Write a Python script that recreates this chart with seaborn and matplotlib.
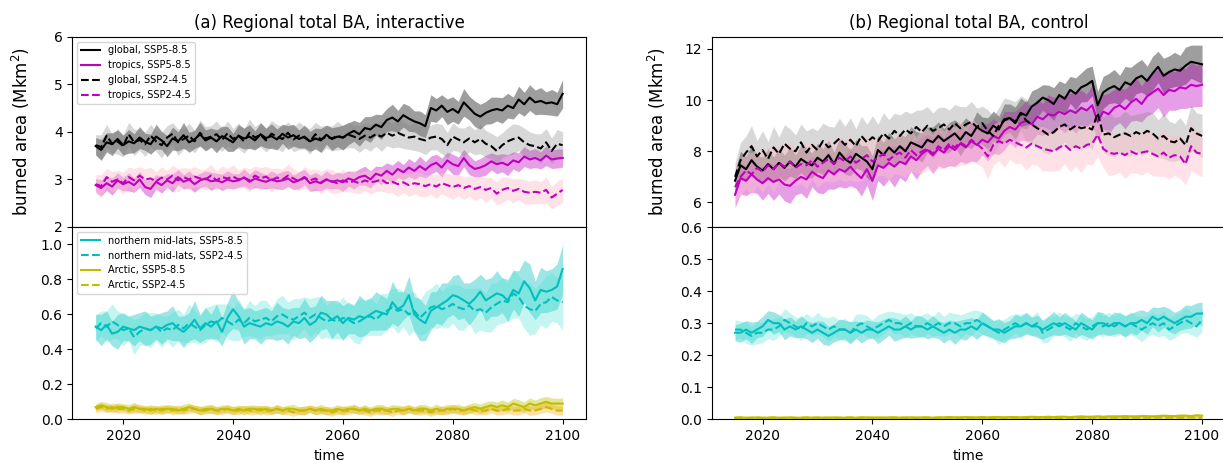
import numpy as np
import matplotlib
matplotlib.use("Agg")
import matplotlib.pyplot as plt
import seaborn as sns

YEARS = list(range(2015, 2101))

# ---------------- (a) interactive: global / tropics (Mkm2) ----------------
GLOBAL_585_A = [
    3.70, 3.62, 3.78, 3.74, 3.85, 3.72, 3.80, 3.76, 3.88, 3.79,
    3.74, 3.90, 3.82, 3.70, 3.86, 3.80, 3.93, 3.78, 3.84, 3.95,
    3.82, 3.88, 3.80, 3.91, 3.85, 3.78, 3.92, 3.86, 3.90, 3.82,
    3.95, 3.87, 3.91, 3.84, 3.96, 3.88, 3.93, 3.85, 3.90, 3.80,
    3.86, 3.82, 3.94, 3.85, 3.90, 3.88, 3.96, 4.02, 3.95, 4.08,
    4.05, 4.15, 4.10, 4.25, 4.30, 4.22, 4.35, 4.28, 4.22, 4.18,
    4.12, 4.50, 4.45, 4.55, 4.42, 4.48, 4.40, 4.62, 4.50, 4.38,
    4.32, 4.40, 4.45, 4.48, 4.45, 4.55, 4.50, 4.68, 4.58, 4.72,
    4.62, 4.65, 4.60, 4.62, 4.58, 4.80]
GLOBAL_585_A_SPREAD = [
    0.18, 0.22, 0.20, 0.24, 0.19, 0.21, 0.25, 0.20, 0.23, 0.18,
    0.21, 0.26, 0.19, 0.22, 0.24, 0.20, 0.27, 0.21, 0.19, 0.25,
    0.22, 0.20, 0.24, 0.21, 0.26, 0.19, 0.23, 0.22, 0.25, 0.20,
    0.24, 0.21, 0.26, 0.22, 0.20, 0.25, 0.23, 0.19, 0.24, 0.21,
    0.22, 0.25, 0.20, 0.24, 0.21, 0.26, 0.23, 0.22, 0.25, 0.24,
    0.27, 0.22, 0.26, 0.24, 0.28, 0.23, 0.25, 0.27, 0.22, 0.26,
    0.24, 0.28, 0.25, 0.23, 0.27, 0.26, 0.24, 0.29, 0.25, 0.27,
    0.26, 0.24, 0.28, 0.25, 0.27, 0.26, 0.23, 0.28, 0.25, 0.27,
    0.26, 0.28, 0.24, 0.27, 0.25, 0.30]
GLOBAL_245_A = [
    3.72, 3.68, 3.92, 3.75, 3.80, 3.70, 3.95, 3.78, 3.83, 3.74,
    3.92, 3.80, 3.72, 3.88, 3.96, 3.78, 3.85, 3.92, 3.80, 3.98,
    3.86, 3.90, 3.95, 3.83, 3.97, 3.85, 3.92, 3.80, 3.98, 3.88,
    3.94, 3.82, 3.96, 3.90, 3.85, 3.98, 3.84, 3.92, 3.88, 3.80,
    3.95, 3.84, 3.90, 3.86, 3.92, 3.88, 3.94, 3.90, 3.85, 3.92,
    3.88, 3.95, 3.90, 3.98, 3.92, 3.98, 3.93, 3.88, 3.90, 3.85,
    3.82, 3.88, 3.90, 3.85, 3.72, 3.90, 3.84, 3.78, 3.86, 3.78,
    3.85, 3.75, 3.70, 3.60, 3.72, 3.80, 3.85, 3.88, 3.78, 3.72,
    3.70, 3.65, 3.78, 3.60, 3.75, 3.72]
GLOBAL_245_A_SPREAD = [
    0.22, 0.26, 0.24, 0.20, 0.27, 0.23, 0.25, 0.28, 0.22, 0.26,
    0.24, 0.21, 0.27, 0.25, 0.23, 0.28, 0.22, 0.26, 0.24, 0.27,
    0.25, 0.23, 0.28, 0.24, 0.26, 0.22, 0.27, 0.25, 0.29, 0.23,
    0.26, 0.24, 0.28, 0.25, 0.27, 0.23, 0.26, 0.29, 0.24, 0.27,
    0.25, 0.28, 0.24, 0.26, 0.30, 0.25, 0.27, 0.24, 0.28, 0.26,
    0.29, 0.25, 0.31, 0.27, 0.26, 0.30, 0.28, 0.25, 0.29, 0.27,
    0.30, 0.26, 0.28, 0.31, 0.27, 0.29, 0.25, 0.30, 0.28, 0.26,
    0.31, 0.28, 0.27, 0.30, 0.26, 0.29, 0.32, 0.27, 0.30, 0.28,
    0.26, 0.31, 0.29, 0.27, 0.30, 0.28]
TROPICS_585_A = [
    2.88, 2.82, 2.92, 2.85, 2.98, 2.90, 2.95, 2.88, 3.00, 2.84,
    2.80, 2.95, 2.88, 2.98, 2.92, 3.05, 2.95, 3.00, 2.90, 2.98,
    3.02, 2.96, 2.98, 2.94, 3.00, 2.96, 2.98, 3.04, 2.95, 3.02,
    2.98, 2.95, 3.00, 2.96, 2.98, 3.02, 2.94, 2.98, 3.05, 2.92,
    2.96, 2.92, 3.00, 2.95, 2.98, 2.94, 3.02, 2.98, 3.05, 3.08,
    3.00, 3.12, 3.08, 3.18, 3.10, 3.22, 3.15, 3.25, 3.18, 3.28,
    3.20, 3.30, 3.35, 3.25, 3.40, 3.32, 3.28, 3.45, 3.30, 3.22,
    3.25, 3.30, 3.38, 3.32, 3.35, 3.30, 3.40, 3.36, 3.48, 3.42,
    3.45, 3.40, 3.50, 3.42, 3.44, 3.45]
TROPICS_585_A_SPREAD = [
    0.14, 0.17, 0.15, 0.18, 0.16, 0.14, 0.19, 0.15, 0.17, 0.16,
    0.18, 0.15, 0.17, 0.14, 0.19, 0.16, 0.15, 0.18, 0.17, 0.15,
    0.16, 0.19, 0.15, 0.17, 0.18, 0.16, 0.14, 0.18, 0.16, 0.19,
    0.17, 0.15, 0.18, 0.16, 0.19, 0.17, 0.15, 0.18, 0.16, 0.17,
    0.19, 0.16, 0.18, 0.15, 0.17, 0.19, 0.16, 0.18, 0.17, 0.20,
    0.18, 0.16, 0.19, 0.17, 0.20, 0.18, 0.16, 0.19, 0.18, 0.21,
    0.17, 0.19, 0.18, 0.20, 0.17, 0.21, 0.19, 0.18, 0.20, 0.17,
    0.19, 0.21, 0.18, 0.20, 0.19, 0.22, 0.18, 0.20, 0.21, 0.19,
    0.20, 0.18, 0.21, 0.19, 0.20, 0.19]
TROPICS_245_A = [
    2.90, 2.86, 3.05, 2.95, 3.00, 2.92, 3.05, 2.98, 3.08, 3.00,
    3.02, 2.96, 3.04, 3.00, 3.08, 2.98, 3.05, 3.00, 3.06, 3.02,
    3.00, 3.08, 2.98, 3.05, 3.02, 3.06, 3.00, 3.04, 2.98, 3.08,
    3.02, 3.06, 2.98, 3.04, 3.00, 3.08, 3.02, 2.96, 3.04, 2.98,
    3.02, 2.94, 3.00, 2.96, 2.92, 2.98, 2.94, 2.96, 2.92, 2.98,
    2.94, 2.96, 3.00, 2.92, 2.95, 2.90, 2.94, 2.88, 2.92, 2.90,
    2.86, 2.90, 2.85, 2.92, 2.88, 2.84, 2.88, 2.82, 2.86, 2.80,
    2.84, 2.78, 2.82, 2.70, 2.78, 2.82, 2.76, 2.80, 2.74, 2.72,
    2.74, 2.72, 2.78, 2.62, 2.70, 2.78]
TROPICS_245_A_SPREAD = [
    0.20, 0.24, 0.18, 0.22, 0.19, 0.23, 0.21, 0.25, 0.19, 0.22,
    0.24, 0.20, 0.23, 0.19, 0.22, 0.25, 0.20, 0.23, 0.21, 0.19,
    0.22, 0.24, 0.20, 0.23, 0.21, 0.25, 0.19, 0.22, 0.24, 0.20,
    0.23, 0.21, 0.25, 0.20, 0.22, 0.24, 0.21, 0.19, 0.23, 0.22,
    0.20, 0.24, 0.22, 0.25, 0.21, 0.23, 0.20, 0.24, 0.22, 0.21,
    0.25, 0.22, 0.24, 0.20, 0.23, 0.26, 0.21, 0.24, 0.22, 0.25,
    0.23, 0.21, 0.25, 0.22, 0.24, 0.26, 0.22, 0.24, 0.21, 0.25,
    0.23, 0.26, 0.22, 0.24, 0.27, 0.23, 0.25, 0.22, 0.26, 0.24,
    0.25, 0.23, 0.27, 0.24, 0.25, 0.26]

# ---------------- (a) interactive: northern mid-lats / Arctic ----------------
NML_585_A = [
    0.53, 0.51, 0.54, 0.49, 0.50, 0.53, 0.52, 0.51, 0.53, 0.52,
    0.51, 0.53, 0.52, 0.54, 0.55, 0.52, 0.50, 0.53, 0.57, 0.52,
    0.55, 0.53, 0.56, 0.50, 0.58, 0.63, 0.59, 0.53, 0.55, 0.54,
    0.53, 0.55, 0.54, 0.56, 0.55, 0.53, 0.56, 0.55, 0.58, 0.54,
    0.56, 0.61, 0.60, 0.57, 0.59, 0.55, 0.58, 0.57, 0.59, 0.58,
    0.60, 0.62, 0.61, 0.60, 0.67, 0.63, 0.65, 0.71, 0.60, 0.57,
    0.55, 0.62, 0.64, 0.66, 0.68, 0.71, 0.70, 0.68, 0.66, 0.69,
    0.73, 0.68, 0.70, 0.72, 0.71, 0.68, 0.74, 0.72, 0.79, 0.75,
    0.68, 0.74, 0.73, 0.74, 0.76, 0.86]
NML_585_A_SPREAD = [
    0.07, 0.09, 0.08, 0.07, 0.10, 0.08, 0.07, 0.09, 0.08, 0.10,
    0.08, 0.07, 0.09, 0.08, 0.10, 0.07, 0.09, 0.08, 0.11, 0.08,
    0.09, 0.07, 0.10, 0.08, 0.09, 0.11, 0.08, 0.10, 0.09, 0.08,
    0.10, 0.09, 0.08, 0.11, 0.09, 0.10, 0.08, 0.09, 0.11, 0.10,
    0.09, 0.10, 0.08, 0.11, 0.09, 0.10, 0.09, 0.08, 0.12, 0.10,
    0.09, 0.11, 0.10, 0.09, 0.12, 0.10, 0.08, 0.11, 0.10, 0.12,
    0.10, 0.11, 0.09, 0.12, 0.10, 0.11, 0.13, 0.10, 0.12, 0.11,
    0.10, 0.12, 0.11, 0.13, 0.10, 0.12, 0.11, 0.13, 0.12, 0.14,
    0.11, 0.13, 0.12, 0.12, 0.13, 0.14]
NML_245_A = [
    0.52, 0.55, 0.53, 0.56, 0.54, 0.51, 0.52, 0.47, 0.50, 0.52,
    0.51, 0.53, 0.50, 0.52, 0.51, 0.54, 0.52, 0.55, 0.53, 0.51,
    0.54, 0.56, 0.55, 0.58, 0.56, 0.54, 0.57, 0.55, 0.58, 0.56,
    0.57, 0.58, 0.56, 0.59, 0.60, 0.58, 0.57, 0.59, 0.61, 0.58,
    0.60, 0.58, 0.56, 0.57, 0.56, 0.58, 0.57, 0.55, 0.56, 0.58,
    0.59, 0.57, 0.60, 0.62, 0.64, 0.62, 0.63, 0.60, 0.62, 0.58,
    0.61, 0.64, 0.65, 0.63, 0.64, 0.66, 0.64, 0.63, 0.65, 0.62,
    0.63, 0.61, 0.64, 0.66, 0.68, 0.67, 0.72, 0.70, 0.65, 0.63,
    0.62, 0.66, 0.67, 0.70, 0.68, 0.67]
NML_245_A_SPREAD = [
    0.08, 0.07, 0.09, 0.10, 0.08, 0.09, 0.07, 0.10, 0.08, 0.09,
    0.10, 0.08, 0.09, 0.07, 0.10, 0.09, 0.08, 0.11, 0.09, 0.08,
    0.10, 0.09, 0.11, 0.08, 0.10, 0.09, 0.12, 0.08, 0.10, 0.09,
    0.11, 0.10, 0.08, 0.10, 0.11, 0.09, 0.12, 0.10, 0.09, 0.11,
    0.10, 0.12, 0.09, 0.11, 0.10, 0.12, 0.09, 0.11, 0.13, 0.10,
    0.11, 0.09, 0.12, 0.10, 0.11, 0.13, 0.10, 0.12, 0.11, 0.10,
    0.12, 0.11, 0.13, 0.10, 0.12, 0.11, 0.13, 0.12, 0.10, 0.13,
    0.12, 0.11, 0.14, 0.12, 0.13, 0.11, 0.14, 0.12, 0.13, 0.15,
    0.13, 0.12, 0.15, 0.14, 0.13, 0.16]
ARCTIC_585_A = [
    0.07, 0.08, 0.07, 0.06, 0.07, 0.07, 0.06, 0.07, 0.06, 0.06,
    0.05, 0.06, 0.05, 0.06, 0.06, 0.05, 0.06, 0.07, 0.06, 0.05,
    0.06, 0.06, 0.05, 0.06, 0.06, 0.05, 0.06, 0.05, 0.06, 0.06,
    0.05, 0.06, 0.05, 0.06, 0.05, 0.06, 0.06, 0.05, 0.05, 0.06,
    0.05, 0.06, 0.05, 0.05, 0.06, 0.05, 0.06, 0.06, 0.05, 0.06,
    0.05, 0.06, 0.06, 0.05, 0.06, 0.06, 0.05, 0.06, 0.05, 0.06,
    0.06, 0.05, 0.06, 0.05, 0.06, 0.06, 0.06, 0.05, 0.06, 0.07,
    0.06, 0.07, 0.08, 0.07, 0.08, 0.07, 0.09, 0.08, 0.07, 0.09,
    0.08, 0.09, 0.10, 0.09, 0.09, 0.09]
ARCTIC_585_A_SPREAD = [
    0.020, 0.022, 0.025, 0.021, 0.024, 0.020, 0.023, 0.026, 0.022, 0.021,
    0.024, 0.020, 0.023, 0.025, 0.021, 0.022, 0.026, 0.023, 0.020, 0.024,
    0.022, 0.025, 0.021, 0.023, 0.020, 0.024, 0.022, 0.026, 0.021, 0.023,
    0.025, 0.022, 0.020, 0.024, 0.023, 0.021, 0.025, 0.022, 0.024, 0.020,
    0.023, 0.026, 0.022, 0.021, 0.024, 0.023, 0.020, 0.025, 0.022, 0.024,
    0.021, 0.023, 0.026, 0.022, 0.024, 0.021, 0.025, 0.023, 0.022, 0.026,
    0.024, 0.022, 0.027, 0.023, 0.025, 0.022, 0.026, 0.024, 0.028, 0.025,
    0.027, 0.030, 0.026, 0.029, 0.031, 0.027, 0.030, 0.033, 0.029, 0.032,
    0.030, 0.034, 0.031, 0.033, 0.030, 0.032]
ARCTIC_245_A = [
    0.06, 0.07, 0.06, 0.07, 0.06, 0.06, 0.05, 0.06, 0.06, 0.05,
    0.06, 0.05, 0.06, 0.06, 0.05, 0.06, 0.05, 0.06, 0.06, 0.05,
    0.05, 0.06, 0.05, 0.05, 0.06, 0.05, 0.05, 0.06, 0.05, 0.05,
    0.06, 0.05, 0.05, 0.06, 0.05, 0.05, 0.04, 0.05, 0.05, 0.06,
    0.05, 0.05, 0.05, 0.04, 0.05, 0.05, 0.05, 0.06, 0.05, 0.05,
    0.04, 0.05, 0.05, 0.05, 0.04, 0.05, 0.05, 0.06, 0.05, 0.05,
    0.05, 0.04, 0.05, 0.05, 0.05, 0.06, 0.05, 0.05, 0.06, 0.05,
    0.05, 0.05, 0.06, 0.05, 0.05, 0.06, 0.05, 0.05, 0.06, 0.05,
    0.05, 0.06, 0.07, 0.06, 0.05, 0.05]
ARCTIC_245_A_SPREAD = [
    0.022, 0.025, 0.021, 0.024, 0.026, 0.022, 0.020, 0.025, 0.023, 0.021,
    0.026, 0.022, 0.024, 0.020, 0.025, 0.023, 0.021, 0.026, 0.022, 0.024,
    0.020, 0.025, 0.023, 0.021, 0.026, 0.022, 0.024, 0.020, 0.025, 0.023,
    0.021, 0.026, 0.022, 0.024, 0.020, 0.025, 0.023, 0.021, 0.026, 0.022,
    0.024, 0.020, 0.025, 0.023, 0.021, 0.026, 0.022, 0.024, 0.020, 0.025,
    0.023, 0.021, 0.026, 0.022, 0.024, 0.020, 0.025, 0.023, 0.021, 0.026,
    0.022, 0.024, 0.021, 0.025, 0.023, 0.026, 0.022, 0.024, 0.021, 0.025,
    0.023, 0.026, 0.022, 0.025, 0.023, 0.027, 0.024, 0.026, 0.023, 0.027,
    0.025, 0.026, 0.028, 0.025, 0.027, 0.026]

# ---------------- (b) control: global / tropics (Mkm2) ----------------
GLOBAL_585_B = [
    6.85, 7.45, 7.30, 7.65, 7.40, 7.25, 7.50, 7.30, 7.55, 7.35,
    7.60, 7.40, 7.70, 7.55, 7.45, 7.75, 7.60, 7.85, 7.50, 7.95,
    7.70, 7.55, 7.90, 7.75, 7.60, 7.30, 8.05, 7.85, 8.15, 7.95,
    8.20, 8.00, 8.35, 8.25, 8.15, 8.45, 8.35, 8.60, 8.40, 8.55,
    8.70, 8.45, 8.75, 8.60, 8.95, 8.80, 8.70, 9.00, 8.85, 9.25,
    9.30, 9.10, 9.50, 9.40, 9.75, 9.90, 10.10, 10.00, 9.85, 10.20,
    10.05, 10.40, 10.25, 10.50, 10.60, 10.75, 9.80, 10.30, 10.45, 10.55,
    10.40, 10.70, 10.60, 10.85, 10.95, 10.75, 11.05, 11.30, 10.95, 11.10,
    11.20, 11.15, 11.35, 11.50, 11.45, 11.40]
GLOBAL_585_B_SPREAD = [
    0.40, 0.55, 0.50, 0.58, 0.45, 0.52, 0.60, 0.48, 0.55, 0.50,
    0.57, 0.46, 0.53, 0.60, 0.49, 0.55, 0.51, 0.58, 0.47, 0.54,
    0.60, 0.50, 0.56, 0.48, 0.62, 0.53, 0.57, 0.50, 0.59, 0.54,
    0.48, 0.56, 0.61, 0.52, 0.57, 0.50, 0.60, 0.55, 0.49, 0.58,
    0.53, 0.62, 0.56, 0.50, 0.59, 0.54, 0.61, 0.57, 0.52, 0.60,
    0.55, 0.63, 0.58, 0.52, 0.61, 0.56, 0.50, 0.59, 0.64, 0.55,
    0.60, 0.53, 0.62, 0.57, 0.66, 0.58, 0.54, 0.63, 0.59, 0.65,
    0.57, 0.62, 0.68, 0.60, 0.64, 0.58, 0.66, 0.61, 0.69, 0.63,
    0.67, 0.60, 0.72, 0.65, 0.70, 0.75]
GLOBAL_245_B = [
    7.00, 7.65, 7.95, 8.20, 7.80, 8.05, 7.70, 8.15, 7.90, 8.30,
    8.10, 8.00, 8.35, 7.95, 8.25, 8.05, 8.40, 8.15, 8.30, 8.50,
    8.25, 8.45, 8.20, 8.60, 8.35, 8.55, 8.40, 8.70, 8.50, 8.80,
    8.60, 8.85, 8.70, 8.95, 8.75, 9.00, 8.80, 8.90, 9.05, 8.85,
    9.10, 8.90, 9.05, 9.15, 8.95, 9.10, 8.80, 8.60, 9.00, 9.20,
    9.30, 9.15, 9.50, 9.20, 9.05, 8.90, 8.80, 8.65, 8.75, 8.95,
    9.05, 8.85, 9.00, 8.90, 8.95, 8.85, 9.50, 8.65, 8.70, 8.55,
    8.65, 8.70, 8.60, 8.75, 8.65, 8.80, 8.70, 8.50, 8.60, 8.40,
    8.35, 8.50, 8.25, 8.90, 8.70, 8.60]
GLOBAL_245_B_SPREAD = [
    0.55, 0.70, 0.65, 0.80, 0.62, 0.75, 0.68, 0.82, 0.66, 0.74,
    0.78, 0.64, 0.72, 0.85, 0.67, 0.76, 0.70, 0.83, 0.65, 0.79,
    0.73, 0.86, 0.68, 0.77, 0.71, 0.84, 0.66, 0.80, 0.74, 0.69,
    0.82, 0.72, 0.78, 0.65, 0.87, 0.75, 0.70, 0.81, 0.68, 0.77,
    0.73, 0.85, 0.69, 0.80, 0.74, 0.66, 0.83, 0.76, 0.71, 0.88,
    0.72, 0.79, 0.67, 0.84, 0.75, 0.70, 0.82, 0.77, 0.73, 0.86,
    0.68, 0.80, 0.74, 0.89, 0.71, 0.78, 0.83, 0.69, 0.85, 0.76,
    0.72, 0.87, 0.79, 0.70, 0.84, 0.75, 0.81, 0.73, 0.88, 0.78,
    0.74, 0.82, 0.77, 0.90, 0.80, 0.85]
TROPICS_585_B = [
    6.30, 6.95, 6.85, 7.10, 6.90, 6.75, 6.95, 6.80, 6.90, 6.70,
    6.65, 6.85, 7.00, 6.90, 7.20, 7.05, 6.95, 7.25, 7.10, 7.30,
    7.20, 7.40, 7.15, 6.95, 7.30, 6.85, 7.45, 7.35, 7.55, 7.40,
    7.60, 7.50, 7.80, 7.65, 7.90, 8.05, 7.85, 8.10, 7.95, 8.20,
    8.05, 8.30, 8.15, 8.40, 8.25, 8.45, 8.35, 8.60, 8.50, 8.80,
    8.95, 8.85, 9.10, 9.20, 9.05, 9.35, 9.25, 9.45, 9.40, 9.55,
    9.45, 9.60, 9.50, 9.70, 9.60, 9.80, 9.15, 9.55, 9.45, 9.70,
    9.80, 9.65, 9.90, 10.05, 9.85, 10.15, 10.30, 10.45, 10.20, 10.40,
    10.35, 10.50, 10.45, 10.60, 10.55, 10.60]
TROPICS_585_B_SPREAD = [
    0.50, 0.62, 0.58, 0.70, 0.55, 0.66, 0.60, 0.72, 0.57, 0.64,
    0.69, 0.56, 0.63, 0.74, 0.59, 0.67, 0.61, 0.73, 0.58, 0.68,
    0.64, 0.75, 0.60, 0.70, 0.62, 0.77, 0.59, 0.71, 0.65, 0.80,
    0.63, 0.69, 0.58, 0.74, 0.66, 0.61, 0.72, 0.67, 0.60, 0.76,
    0.64, 0.70, 0.62, 0.78, 0.66, 0.59, 0.73, 0.68, 0.63, 0.75,
    0.61, 0.71, 0.66, 0.79, 0.64, 0.69, 0.62, 0.76, 0.70, 0.65,
    0.73, 0.67, 0.80, 0.69, 0.64, 0.77, 0.71, 0.66, 0.82, 0.72,
    0.68, 0.78, 0.73, 0.84, 0.70, 0.76, 0.81, 0.74, 0.86, 0.79,
    0.75, 0.83, 0.77, 0.88, 0.80, 0.85]
TROPICS_245_B = [
    6.60, 7.00, 7.25, 7.10, 7.35, 7.20, 7.45, 7.30, 7.55, 7.40,
    7.60, 7.35, 7.50, 7.45, 7.65, 7.40, 7.55, 7.70, 7.50, 7.75,
    7.60, 7.80, 7.55, 7.70, 7.85, 7.60, 7.75, 7.90, 7.65, 7.85,
    7.95, 7.75, 8.05, 7.85, 8.00, 8.10, 7.90, 8.20, 8.05, 8.30,
    8.15, 8.35, 8.20, 8.45, 8.30, 8.10, 7.80, 8.25, 8.40, 8.30,
    8.45, 8.35, 8.25, 8.15, 8.30, 8.20, 8.10, 8.05, 8.00, 8.15,
    8.25, 8.05, 8.20, 8.10, 8.25, 8.30, 8.65, 8.10, 7.95, 7.90,
    7.95, 7.85, 8.00, 7.90, 7.95, 8.00, 7.90, 7.80, 7.95, 7.75,
    7.85, 7.80, 7.50, 8.20, 7.95, 7.90]
TROPICS_245_B_SPREAD = [
    0.60, 0.75, 0.70, 0.85, 0.68, 0.80, 0.73, 0.88, 0.71, 0.79,
    0.84, 0.69, 0.77, 0.90, 0.72, 0.82, 0.75, 0.87, 0.70, 0.83,
    0.78, 0.92, 0.74, 0.85, 0.76, 0.89, 0.71, 0.84, 0.79, 0.73,
    0.87, 0.77, 0.82, 0.70, 0.91, 0.80, 0.75, 0.86, 0.73, 0.81,
    0.78, 0.90, 0.74, 0.85, 0.79, 0.72, 0.88, 0.81, 0.76, 0.93,
    0.77, 0.84, 0.72, 0.89, 0.80, 0.75, 0.87, 0.82, 0.78, 0.91,
    0.73, 0.85, 0.79, 0.94, 0.76, 0.83, 0.88, 0.74, 0.90, 0.81,
    0.77, 0.92, 0.84, 0.75, 0.89, 0.80, 0.86, 0.78, 0.93, 0.83,
    0.79, 0.87, 0.82, 0.95, 0.85, 0.90]

# ---------------- (b) control: northern mid-lats / Arctic ----------------
NML_585_B = [
    0.27, 0.27, 0.28, 0.27, 0.28, 0.29, 0.31, 0.30, 0.30, 0.28,
    0.29, 0.28, 0.29, 0.28, 0.27, 0.28, 0.27, 0.26, 0.27, 0.28,
    0.28, 0.27, 0.28, 0.27, 0.28, 0.28, 0.27, 0.28, 0.29, 0.28,
    0.28, 0.29, 0.28, 0.29, 0.29, 0.28, 0.29, 0.28, 0.27, 0.28,
    0.27, 0.28, 0.28, 0.29, 0.28, 0.30, 0.29, 0.28, 0.28, 0.27,
    0.28, 0.29, 0.29, 0.30, 0.29, 0.29, 0.28, 0.29, 0.30, 0.29,
    0.30, 0.29, 0.28, 0.30, 0.29, 0.28, 0.30, 0.30, 0.29, 0.30,
    0.30, 0.29, 0.30, 0.30, 0.31, 0.30, 0.32, 0.31, 0.32, 0.31,
    0.30, 0.31, 0.32, 0.32, 0.33, 0.33]
NML_585_B_SPREAD = [
    0.025, 0.030, 0.028, 0.033, 0.026, 0.031, 0.029, 0.035, 0.027, 0.032,
    0.030, 0.026, 0.034, 0.029, 0.031, 0.027, 0.036, 0.030, 0.028, 0.033,
    0.029, 0.035, 0.027, 0.032, 0.030, 0.026, 0.034, 0.031, 0.028, 0.036,
    0.030, 0.033, 0.027, 0.035, 0.031, 0.029, 0.034, 0.028, 0.032, 0.030,
    0.036, 0.029, 0.033, 0.027, 0.031, 0.035, 0.030, 0.028, 0.034, 0.032,
    0.029, 0.037, 0.031, 0.033, 0.028, 0.035, 0.030, 0.032, 0.036, 0.029,
    0.034, 0.031, 0.027, 0.035, 0.032, 0.030, 0.036, 0.033, 0.029, 0.035,
    0.031, 0.034, 0.030, 0.037, 0.032, 0.035, 0.031, 0.038, 0.033, 0.036,
    0.034, 0.032, 0.037, 0.035, 0.033, 0.036]
NML_245_B = [
    0.28, 0.28, 0.27, 0.26, 0.27, 0.27, 0.28, 0.28, 0.29, 0.31,
    0.30, 0.29, 0.28, 0.30, 0.29, 0.30, 0.29, 0.28, 0.29, 0.28,
    0.28, 0.27, 0.29, 0.30, 0.29, 0.28, 0.29, 0.30, 0.31, 0.30,
    0.30, 0.29, 0.30, 0.29, 0.29, 0.30, 0.29, 0.30, 0.29, 0.30,
    0.30, 0.29, 0.30, 0.30, 0.31, 0.30, 0.29, 0.28, 0.27, 0.28,
    0.29, 0.30, 0.29, 0.30, 0.29, 0.30, 0.27, 0.28, 0.29, 0.30,
    0.29, 0.28, 0.30, 0.29, 0.28, 0.29, 0.30, 0.29, 0.30, 0.29,
    0.30, 0.29, 0.30, 0.29, 0.28, 0.29, 0.30, 0.29, 0.30, 0.28,
    0.29, 0.30, 0.31, 0.30, 0.29, 0.31]
NML_245_B_SPREAD = [
    0.030, 0.027, 0.033, 0.029, 0.035, 0.031, 0.028, 0.034, 0.030, 0.036,
    0.032, 0.029, 0.035, 0.031, 0.027, 0.034, 0.030, 0.037, 0.032, 0.028,
    0.035, 0.031, 0.038, 0.029, 0.033, 0.030, 0.036, 0.032, 0.028, 0.035,
    0.031, 0.037, 0.033, 0.029, 0.036, 0.032, 0.030, 0.038, 0.031, 0.034,
    0.030, 0.036, 0.032, 0.039, 0.031, 0.035, 0.033, 0.029, 0.037, 0.032,
    0.034, 0.030, 0.038, 0.033, 0.031, 0.036, 0.032, 0.039, 0.030, 0.035,
    0.033, 0.037, 0.031, 0.036, 0.034, 0.030, 0.038, 0.032, 0.035, 0.033,
    0.037, 0.031, 0.036, 0.034, 0.039, 0.032, 0.035, 0.033, 0.038, 0.034,
    0.036, 0.033, 0.039, 0.035, 0.034, 0.037]
ARCTIC_585_B = [
    0.005, 0.006, 0.005, 0.005, 0.006, 0.005, 0.005, 0.006, 0.005, 0.005,
    0.006, 0.005, 0.005, 0.006, 0.005, 0.006, 0.005, 0.005, 0.006, 0.005,
    0.005, 0.006, 0.005, 0.006, 0.006, 0.005, 0.006, 0.005, 0.006, 0.006,
    0.005, 0.006, 0.006, 0.005, 0.006, 0.006, 0.005, 0.006, 0.006, 0.007,
    0.006, 0.006, 0.007, 0.006, 0.006, 0.007, 0.006, 0.007, 0.007, 0.006,
    0.007, 0.007, 0.006, 0.007, 0.008, 0.007, 0.007, 0.008, 0.007, 0.008,
    0.008, 0.007, 0.008, 0.009, 0.008, 0.008, 0.009, 0.008, 0.009, 0.009,
    0.009, 0.010, 0.009, 0.009, 0.010, 0.010, 0.009, 0.010, 0.011, 0.010,
    0.010, 0.011, 0.011, 0.010, 0.012, 0.011]
ARCTIC_585_B_SPREAD = [
    0.003, 0.004, 0.003, 0.004, 0.003, 0.003, 0.004, 0.003, 0.004, 0.003,
    0.003, 0.004, 0.003, 0.003, 0.004, 0.003, 0.004, 0.003, 0.003, 0.004,
    0.003, 0.004, 0.003, 0.004, 0.003, 0.004, 0.003, 0.004, 0.003, 0.004,
    0.004, 0.003, 0.004, 0.003, 0.004, 0.004, 0.003, 0.004, 0.004, 0.003,
    0.004, 0.004, 0.003, 0.004, 0.004, 0.004, 0.003, 0.004, 0.004, 0.004,
    0.004, 0.003, 0.004, 0.004, 0.004, 0.005, 0.004, 0.004, 0.005, 0.004,
    0.004, 0.005, 0.004, 0.005, 0.004, 0.005, 0.005, 0.004, 0.005, 0.005,
    0.005, 0.004, 0.005, 0.005, 0.006, 0.005, 0.005, 0.006, 0.005, 0.006,
    0.005, 0.006, 0.006, 0.005, 0.006, 0.006]
ARCTIC_245_B = [
    0.005, 0.005, 0.004, 0.005, 0.005, 0.004, 0.005, 0.005, 0.004, 0.005,
    0.005, 0.004, 0.005, 0.005, 0.005, 0.004, 0.005, 0.005, 0.004, 0.005,
    0.005, 0.005, 0.004, 0.005, 0.005, 0.005, 0.004, 0.005, 0.005, 0.005,
    0.005, 0.004, 0.005, 0.005, 0.005, 0.005, 0.004, 0.005, 0.005, 0.005,
    0.005, 0.005, 0.004, 0.005, 0.005, 0.005, 0.005, 0.004, 0.005, 0.005,
    0.005, 0.005, 0.005, 0.004, 0.005, 0.005, 0.005, 0.005, 0.005, 0.004,
    0.005, 0.005, 0.005, 0.005, 0.005, 0.006, 0.005, 0.005, 0.005, 0.005,
    0.006, 0.005, 0.005, 0.005, 0.006, 0.005, 0.005, 0.006, 0.005, 0.005,
    0.006, 0.005, 0.005, 0.006, 0.005, 0.005]
ARCTIC_245_B_SPREAD = [
    0.003, 0.003, 0.004, 0.003, 0.003, 0.004, 0.003, 0.003, 0.004, 0.003,
    0.003, 0.004, 0.003, 0.003, 0.004, 0.003, 0.003, 0.004, 0.003, 0.003,
    0.004, 0.003, 0.003, 0.004, 0.003, 0.003, 0.004, 0.003, 0.003, 0.004,
    0.003, 0.003, 0.004, 0.003, 0.003, 0.004, 0.003, 0.003, 0.004, 0.003,
    0.003, 0.004, 0.003, 0.003, 0.004, 0.003, 0.003, 0.004, 0.003, 0.003,
    0.004, 0.003, 0.003, 0.004, 0.003, 0.003, 0.004, 0.003, 0.003, 0.004,
    0.003, 0.004, 0.004, 0.003, 0.004, 0.004, 0.003, 0.004, 0.004, 0.003,
    0.004, 0.004, 0.003, 0.004, 0.004, 0.003, 0.004, 0.004, 0.003, 0.004,
    0.004, 0.003, 0.004, 0.004, 0.003, 0.004]

LABEL_G85 = "global, SSP5-8.5"
LABEL_T85 = "tropics, SSP5-8.5"
LABEL_G45 = "global, SSP2-4.5"
LABEL_T45 = "tropics, SSP2-4.5"
LABEL_N85 = "northern mid-lats, SSP5-8.5"
LABEL_N45 = "northern mid-lats, SSP2-4.5"
LABEL_A85 = "Arctic, SSP5-8.5"
LABEL_A45 = "Arctic, SSP2-4.5"

TITLE_A = "(a) Regional total BA, interactive"
TITLE_B = "(b) Regional total BA, control"
YLABEL = "burned area (Mkm$^2$)"
XLABEL = "time"


# (label, mean, spread, line colour, band colour, band alpha, linestyle)
def upper_series(g85, g85s, t85, t85s, g45, g45s, t45, t45s):
    return [
        (LABEL_G85, g85, g85s, "k", "k", 0.38, "-"),
        (LABEL_T85, t85, t85s, "m", "m", 0.38, "-"),
        (LABEL_G45, g45, g45s, "k", "grey", 0.30, "--"),
        (LABEL_T45, t45, t45s, "m", "pink", 0.45, "--"),
    ]


def lower_series(n85, n85s, n45, n45s, a85, a85s, a45, a45s):
    return [
        (LABEL_N85, n85, n85s, "c", "c", 0.38, "-"),
        (LABEL_N45, n45, n45s, "c", "turquoise", 0.30, "--"),
        (LABEL_A85, a85, a85s, "y", "y", 0.40, "-"),
        (LABEL_A45, a45, a45s, "y", "orange", 0.35, "--"),
    ]


def draw_panel(ax, series, legend):
    years = np.asarray(YEARS)
    for _, mean, spread, _, band, alpha, _ in series:
        m = np.asarray(mean)
        s = np.asarray(spread)
        ax.fill_between(years, m - s, m + s, color=band, alpha=alpha, lw=0)
    for label, mean, _, color, _, _, ls in series:
        sns.lineplot(x=years, y=np.asarray(mean), ax=ax, color=color,
                     linestyle=ls, linewidth=1.5, label=label, legend=False)
    ax.set_xlim(2010.75, 2104.25)
    if legend:
        ax.legend(loc="upper left", fontsize=7, handlelength=2)
    elif ax.get_legend() is not None:
        ax.get_legend().remove()


fig = plt.figure(figsize=(12.23, 4.62), dpi=100)
W, H = 1223.0, 462.0
left_a, left_b = 72.3 / W, 711.7 / W
width = (586.0 - 72.3) / W
top_px, mid_px, bot_px = 36.7, 227.0, 419.3
upper_rect_y = 1 - mid_px / H
upper_h = (mid_px - top_px) / H
lower_rect_y = 1 - bot_px / H
lower_h = (bot_px - mid_px) / H

ax_a_top = fig.add_axes([left_a, upper_rect_y, width, upper_h])
ax_a_bot = fig.add_axes([left_a, lower_rect_y, width, lower_h], sharex=ax_a_top)
ax_b_top = fig.add_axes([left_b, upper_rect_y, width, upper_h])
ax_b_bot = fig.add_axes([left_b, lower_rect_y, width, lower_h], sharex=ax_b_top)

draw_panel(ax_a_top, upper_series(GLOBAL_585_A, GLOBAL_585_A_SPREAD,
                                  TROPICS_585_A, TROPICS_585_A_SPREAD,
                                  GLOBAL_245_A, GLOBAL_245_A_SPREAD,
                                  TROPICS_245_A, TROPICS_245_A_SPREAD), True)
draw_panel(ax_a_bot, lower_series(NML_585_A, NML_585_A_SPREAD,
                                  NML_245_A, NML_245_A_SPREAD,
                                  ARCTIC_585_A, ARCTIC_585_A_SPREAD,
                                  ARCTIC_245_A, ARCTIC_245_A_SPREAD), True)
draw_panel(ax_b_top, upper_series(GLOBAL_585_B, GLOBAL_585_B_SPREAD,
                                  TROPICS_585_B, TROPICS_585_B_SPREAD,
                                  GLOBAL_245_B, GLOBAL_245_B_SPREAD,
                                  TROPICS_245_B, TROPICS_245_B_SPREAD), False)
draw_panel(ax_b_bot, lower_series(NML_585_B, NML_585_B_SPREAD,
                                  NML_245_B, NML_245_B_SPREAD,
                                  ARCTIC_585_B, ARCTIC_585_B_SPREAD,
                                  ARCTIC_245_B, ARCTIC_245_B_SPREAD), False)

ax_a_top.set_ylim(2, 6)
ax_a_top.set_yticks([2, 3, 4, 5, 6])
ax_a_bot.set_ylim(0, 1.1)
ax_a_bot.set_yticks([0.0, 0.2, 0.4, 0.6, 0.8, 1.0])
ax_b_top.set_ylim(5.04, 12.48)
ax_b_top.set_yticks([6, 8, 10, 12])
ax_b_bot.set_ylim(0, 0.6)
ax_b_bot.set_yticks([0.0, 0.1, 0.2, 0.3, 0.4, 0.5, 0.6])

for ax in (ax_a_top, ax_b_top):
    ax.tick_params(axis="x", bottom=False, labelbottom=False)
    ax.set_xlabel("")
    ax.set_ylabel(YLABEL, fontsize=12)
for ax in (ax_a_bot, ax_b_bot):
    ax.set_xticks([2020, 2040, 2060, 2080, 2100])
    ax.set_xlabel(XLABEL, fontsize=10, labelpad=4)
    ax.set_ylabel("")

# y labels sit clear of the wider tick labels of the lower panels
ax_a_top.yaxis.set_label_coords(-0.079, 0.5)
ax_b_top.yaxis.set_label_coords(-0.085, 0.5)

ax_a_top.set_title(TITLE_A, fontsize=12)
ax_b_top.set_title(TITLE_B, fontsize=12)

fig.savefig("out.png", dpi=100)
